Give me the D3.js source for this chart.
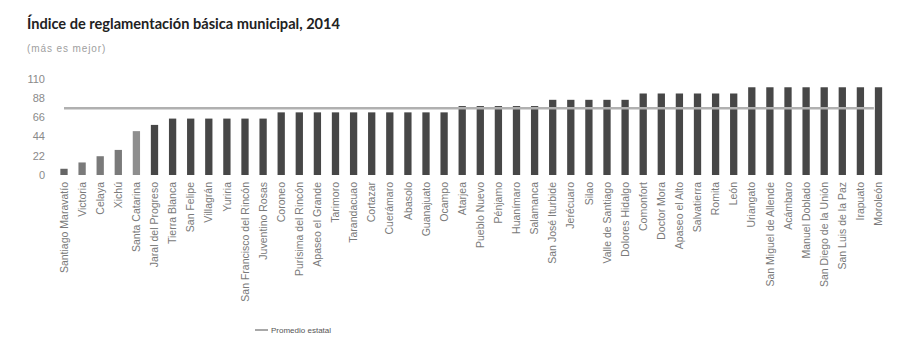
<!DOCTYPE html>
<html>
<head>
<meta charset="utf-8">
<script src="https://cdn.jsdelivr.net/npm/d3@7/dist/d3.min.js"></script>
<style>
  html, body { margin: 0; padding: 0; background: #ffffff; }
  svg { display: block; }
</style>
</head>
<body>
<svg id="chart" width="920" height="350"></svg>
<script>
// Municipios de Guanajuato, ordenados de menor a mayor índice
const municipios = [
  "Santiago Maravatío", "Victoria", "Celaya", "Xichú", "Santa Catarina",
  "Jaral del Progreso", "Tierra Blanca", "San Felipe", "Villagrán", "Yuriria",
  "San Francisco del Rincón", "Juventino Rosas", "Coroneo", "Purísima del Rincón",
  "Apaseo el Grande", "Tarimoro", "Tarandacuao", "Cortazar", "Cuerámaro",
  "Abasolo", "Guanajuato", "Ocampo", "Atarjea", "Pueblo Nuevo", "Pénjamo",
  "Huanímaro", "Salamanca", "San José Iturbide", "Jerécuaro", "Silao",
  "Valle de Santiago", "Dolores Hidalgo", "Comonfort", "Doctor Mora",
  "Apaseo el Alto", "Salvatierra", "Romita", "León", "Uriangato",
  "San Miguel de Allende", "Acámbaro", "Manuel Doblado", "San Diego de la Unión",
  "San Luis de la Paz", "Irapuato", "Moroleón"
];

// Índice de reglamentación básica municipal (0-100)
const indice = [
  7.1, 14.3, 21.4, 28.6, 50.0,
  57.1, 64.3, 64.3, 64.3, 64.3,
  64.3, 64.3, 71.4, 71.4,
  71.4, 71.4, 71.4, 71.4, 71.4,
  71.4, 71.4, 71.4, 78.6, 78.6, 78.6,
  78.6, 78.6, 85.7, 85.7, 85.7,
  85.7, 85.7, 92.9, 92.9,
  92.9, 92.9, 92.9, 92.9, 100,
  100, 100, 100, 100,
  100, 100, 100
];

// Promedio estatal
const promedioEstatal = 76;

const yTicks = [0, 22, 44, 66, 88, 110];

const svg = d3.select("#chart");

// Título y subtítulo
svg.append("text")
  .attr("x", 27).attr("y", 29)
  .attr("font-family", "Lato, 'Open Sans', sans-serif")
  .attr("font-weight", "bold")
  .attr("font-size", 14.6)
  .attr("fill", "#222")
  .text("Índice de reglamentación básica municipal, 2014");

svg.append("text")
  .attr("x", 27).attr("y", 52)
  .attr("font-family", "'Liberation Sans', Arial, sans-serif")
  .attr("font-size", 10)
  .attr("letter-spacing", 0.9)
  .attr("fill", "#a0a0a0")
  .text("(más es mejor)");

// Escalas
const x = d3.scaleBand()
  .domain(municipios)
  .range([51.3, 891.2])
  .paddingInner(0.597)
  .paddingOuter(0.5);

const y = d3.scaleLinear()
  .domain([0, 110])
  .range([175, 78.5]);

// Eje Y (sólo etiquetas)
const yAxis = svg.append("g")
  .attr("transform", "translate(48,0)")
  .call(d3.axisLeft(y).tickValues(yTicks).tickSize(0).tickPadding(3));
yAxis.select(".domain").remove();
yAxis.selectAll("text")
  .attr("font-family", "'Liberation Sans', Arial, sans-serif")
  .attr("font-size", 11)
  .attr("fill", "#8a8a8a");

// Color de cada barra según su posición
function colorBarra(i) {
  if (i === 0) return "#666666";
  if (i < 4) return "#7a7a7a";
  if (i === 4) return "#8e8e8e";
  return "#474747";
}

// Barras
svg.append("g")
  .selectAll("rect")
  .data(municipios)
  .join("rect")
  .attr("x", d => x(d))
  .attr("width", x.bandwidth())
  .attr("y", (d, i) => y(indice[i]))
  .attr("height", (d, i) => y(0) - y(indice[i]))
  .attr("fill", (d, i) => colorBarra(i));

// Línea del promedio estatal
svg.append("line")
  .attr("x1", x(municipios[0]) + x.bandwidth() / 2)
  .attr("x2", x(municipios[municipios.length - 1]) - 1)
  .attr("y1", y(promedioEstatal))
  .attr("y2", y(promedioEstatal))
  .attr("stroke", "#b0b0b0")
  .attr("stroke-width", 2.5);

// Eje X con nombres rotados
const xAxis = svg.append("g")
  .attr("transform", `translate(0,${y(0)})`)
  .call(d3.axisBottom(x).tickSize(0).tickPadding(0));
xAxis.select(".domain").remove();
xAxis.selectAll("text")
  .attr("font-family", "'Liberation Sans', Arial, sans-serif")
  .attr("font-size", 10.5)
  .attr("fill", "#7a7a7a")
  .attr("text-anchor", "end")
  .attr("dy", "0.35em")
  .attr("transform", "translate(0,7) rotate(-90)");

// Leyenda
const leyenda = svg.append("g").attr("transform", "translate(255,330)");
leyenda.append("line")
  .attr("x1", 0).attr("x2", 13)
  .attr("y1", 0).attr("y2", 0)
  .attr("stroke", "#a8a8a8")
  .attr("stroke-width", 2);
leyenda.append("text")
  .attr("x", 16).attr("y", 3)
  .attr("font-family", "'Liberation Sans', Arial, sans-serif")
  .attr("font-size", 8)
  .attr("fill", "#555")
  .text("Promedio estatal");
</script>
</body>
</html>
